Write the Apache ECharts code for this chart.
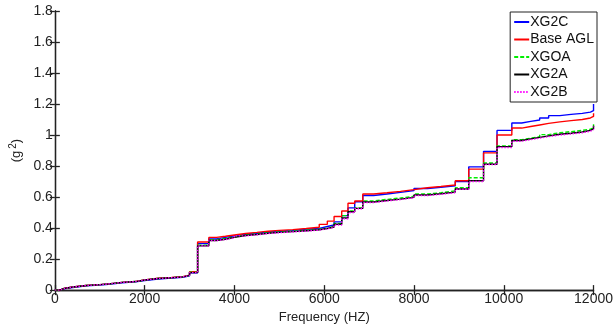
<!DOCTYPE html>
<html><head><meta charset="utf-8">
<script src="https://cdn.jsdelivr.net/npm/echarts@6/dist/echarts.min.js"></script>
<style>html,body{margin:0;padding:0;background:#fff}#c{width:616px;height:329px}</style>
</head><body><div id="c"></div>
<script>
var freqs = [0, 100, 200, 400, 700, 1000, 1200, 1500, 1800, 2000, 2300, 2600, 2850, 3000,
  3180, 3430, 3600, 3800, 4000, 4250, 4500, 4750, 5000, 5300, 5600,
  5890, 6070, 6220, 6390, 6530, 6680, 6860,
  7100, 7400, 7700, 8000, 8300, 8600, 8920,
  9220, 9550, 9850,
  10180, 10400, 10600, 10800, 11000, 11250, 11500, 11750, 11930, 12000];
var xg2c = [0, 0.008, 0.017, 0.027, 0.032, 0.038, 0.047, 0.053, 0.062, 0.072, 0.078, 0.083, 0.092, 0.112,
  0.30, 0.33, 0.34, 0.35, 0.36, 0.367, 0.375, 0.38, 0.385, 0.392, 0.398,
  0.41, 0.42, 0.44, 0.48, 0.53, 0.57, 0.61,
  0.62, 0.63, 0.642, 0.655, 0.663, 0.673, 0.70,
  0.795, 0.895, 1.03,
  1.078, 1.088, 1.097, 1.11, 1.125, 1.133, 1.14, 1.148, 1.157, 1.2];
var baseAGL = [0, 0.01, 0.02, 0.03, 0.035, 0.04, 0.05, 0.056, 0.066, 0.077, 0.082, 0.087, 0.097, 0.118,
  0.31, 0.34, 0.347, 0.355, 0.365, 0.372, 0.38, 0.385, 0.39, 0.397, 0.405,
  0.424, 0.445, 0.475, 0.51, 0.56, 0.575, 0.62,
  0.628, 0.637, 0.648, 0.66, 0.668, 0.678, 0.705,
  0.78, 0.885, 1.0,
  1.045, 1.055, 1.065, 1.075, 1.085, 1.093, 1.10, 1.11, 1.12, 1.14];
var xgoa = [0, 0.01, 0.02, 0.03, 0.035, 0.04, 0.05, 0.055, 0.065, 0.075, 0.08, 0.085, 0.095, 0.115,
  0.29, 0.325, 0.333, 0.343, 0.355, 0.362, 0.37, 0.375, 0.38, 0.386, 0.392,
  0.40, 0.41, 0.43, 0.48, 0.51, 0.53, 0.575,
  0.585, 0.594, 0.605, 0.62, 0.628, 0.64, 0.66,
  0.725, 0.82, 0.93,
  0.97, 0.98, 0.99, 1.003, 1.015, 1.022, 1.03, 1.038, 1.046, 1.07];
var xg2a = [0, 0.01, 0.02, 0.03, 0.035, 0.04, 0.05, 0.055, 0.065, 0.075, 0.08, 0.085, 0.095, 0.113,
  0.285, 0.32, 0.328, 0.34, 0.352, 0.359, 0.367, 0.372, 0.377, 0.383, 0.389,
  0.397, 0.407, 0.425, 0.465, 0.505, 0.527, 0.568,
  0.578, 0.587, 0.598, 0.613, 0.621, 0.632, 0.652,
  0.705, 0.812, 0.925,
  0.965, 0.975, 0.985, 0.995, 1.005, 1.012, 1.02, 1.03, 1.04, 1.06];
var xg2b = [0, 0.01, 0.02, 0.03, 0.035, 0.04, 0.05, 0.055, 0.065, 0.075, 0.08, 0.085, 0.095, 0.113,
  0.285, 0.32, 0.326, 0.337, 0.35, 0.357, 0.365, 0.37, 0.375, 0.381, 0.387,
  0.395, 0.405, 0.42, 0.46, 0.50, 0.525, 0.565,
  0.575, 0.584, 0.595, 0.61, 0.618, 0.628, 0.65,
  0.70, 0.81, 0.92,
  0.96, 0.97, 0.98, 0.99, 1.0, 1.007, 1.015, 1.025, 1.035, 1.055];
var seriesNames = ['XG2C', 'Base AGL', 'XGOA', 'XG2A', 'XG2B'];
var seriesValues = [xg2c, baseAGL, xgoa, xg2a, xg2b];

var colors = ['#0000ff', '#ff0000', '#00ee00', '#000000', '#ff00ff'];
var dashes = ['solid', 'solid', [4, 2], 'solid', [1.5, 1.5]];
var font = 'Liberation Sans, Arial, sans-serif';

function pairs(vals) { return freqs.map(function (f, i) { return [f, vals[i]]; }); }

var chart = echarts.init(document.getElementById('c'), null, { renderer: 'canvas' });
var axisCommon = {
  axisLine: { show: true, lineStyle: { color: '#222', width: 1.3 } },
  axisTick: { show: true, inside: true, length: 5, lineStyle: { color: '#222', width: 1.3 } },
  splitLine: { show: false }
};
chart.setOption({
  animation: false,
  backgroundColor: '#fff',
  grid: { left: 52, right: 19, top: 11, bottom: 38, show: false },
  legend: {
    orient: 'vertical', right: 19, top: 12,
    data: seriesNames,
    itemWidth: 15, itemHeight: 8, itemGap: 3.5,
    itemStyle: { opacity: 0 },
    borderColor: '#222', borderWidth: 1, backgroundColor: '#fff',
    padding: [3, 3, 3, 3],
    textStyle: { fontFamily: font, fontSize: 14, color: '#111', padding: [0, 0, 0, -4] }
  },
  xAxis: [
    Object.assign({
      type: 'value', min: 0, max: 12000, interval: 2000,
      name: 'Frequency (HZ)', nameLocation: 'middle', nameGap: 19,
      nameTextStyle: { fontFamily: font, fontSize: 13, color: '#222' },
      axisLabel: { fontFamily: font, fontSize: 14, color: '#222', margin: 2,
        formatter: function (v) { return String(v); } }
    }, axisCommon),
    Object.assign({
      type: 'value', min: 0, max: 12000, interval: 2000, position: 'top',
      axisLabel: { show: false }
    }, axisCommon)
  ],
  yAxis: [
    Object.assign({
      type: 'value', min: 0, max: 1.8, interval: 0.2,
      name: '(g{s|2})', nameLocation: 'middle', nameGap: 29, nameRotate: 90,
      nameTextStyle: { fontFamily: font, fontSize: 13, color: '#222',
        rich: { s: { fontFamily: font, fontSize: 10, color: '#222', verticalAlign: 'top', padding: [0, 0, 6, 2] } } },
      axisLabel: { fontFamily: font, fontSize: 14, color: '#222', margin: 2,
        formatter: function (v) { return String(Math.round(v * 10) / 10); } }
    }, axisCommon),
    Object.assign({
      type: 'value', min: 0, max: 1.8, interval: 0.2, position: 'right',
      axisLabel: { show: false }
    }, axisCommon)
  ],
  series: seriesNames.map(function (n, i) {
    return {
      name: n, type: 'line', step: 'end', showSymbol: false, symbol: 'none',
      data: pairs(seriesValues[i]),
      color: colors[i],
      lineStyle: { color: colors[i], width: 1.4, type: dashes[i] },
      z: 2 + i
    };
  })
});
</script></body></html>
